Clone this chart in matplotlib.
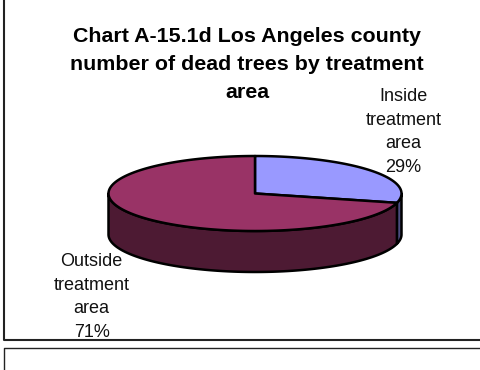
import numpy as np
import matplotlib
matplotlib.use('Agg')
import matplotlib.pyplot as plt

title = 'Chart A-15.1d Los Angeles county\nnumber of dead trees by treatment\narea'
labels = ['Inside\ntreatment\narea\n29%', 'Outside\ntreatment\narea\n71%']
shares = [29, 71]
colors = ['#9999ff', '#993366']
side_colors = ['#4c4c80', '#4d1a33']

plt.rcParams['font.family'] = ['Liberation Sans', 'DejaVu Sans']

W, H = 481, 370
fig = plt.figure(figsize=(W / 100, H / 100), dpi=100)
ax = fig.add_axes([0, 0, 1, 1])
ax.set_xlim(0, W)
ax.set_ylim(H, 0)
ax.axis('off')

# pie geometry in pixels
cx, cy = 255, 193.5
rx, ry, depth = 146.5, 37.5, 41


def rim(a, b, n=200):
    t = np.radians(np.linspace(a, b, n))
    return cx + rx * np.sin(t), cy - ry * np.cos(t)


# clockwise from 12 o'clock
split = 360 * shares[0] / sum(shares)

# side wall, only the front half shows
for a, b, c in [(90, split, side_colors[0]), (split, 270, side_colors[1])]:
    x, y = rim(a, b)
    ax.fill(np.r_[x, x[::-1]], np.r_[y, y[::-1] + depth], fc=c, ec='black', lw=1.8,
            joinstyle='round', zorder=2)

# top faces
for a, b, c in [(0, split, colors[0]), (split, 360, colors[1])]:
    x, y = rim(a, b)
    ax.fill(np.r_[cx, x], np.r_[cy, y], fc=c, ec='black', lw=1.8, joinstyle='round', zorder=3)

ax.text(247, 64, title, ha='center', va='center', fontsize=15.4, fontweight='bold',
        linespacing=1.6, color='black')
ax.text(403.5, 132, labels[0], ha='center', va='center', fontsize=13, linespacing=1.5, color='#111111')
ax.text(91.7, 297, labels[1], ha='center', va='center', fontsize=13, linespacing=1.5, color='#111111',
        zorder=4)

# chart frames: this one and the top of the next one on the page
ax.plot([4, 4, W], [0, 339.5, 339.5], color='#222222', lw=1.5, clip_on=False)
ax.plot([4, 4, W], [H, 347.5, 347.5], color='#222222', lw=1.0, clip_on=False)

fig.savefig('out.png', dpi=100)
